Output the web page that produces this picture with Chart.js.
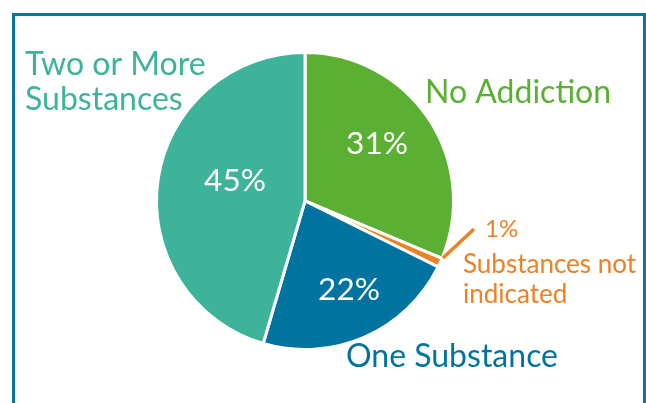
<!DOCTYPE html>
<html>
<head>
<meta charset="utf-8">
<script src="https://cdn.jsdelivr.net/npm/chart.js@4"></script>
<style>
  html, body { margin: 0; padding: 0; background: #fff; }
  #wrap { position: relative; width: 646px; height: 403px; }
</style>
</head>
<body>
<div id="wrap"><canvas id="c" width="646" height="403"></canvas></div>
<script>
const categories = ["No Addiction", "Substances not indicated", "One Substance", "Two or More Substances"];
const values = [31, 1, 22, 45];
const percentLabels = ["31%", "1%", "22%", "45%"];
const colors = ["#5BB034", "#EE8125", "#0073A0", "#3DB49A"];
const frameColor = "#0B74A0";

const annotate = {
  id: "annotate",
  beforeDraw(chart) {
    const ctx = chart.ctx;
    ctx.save();
    ctx.strokeStyle = frameColor;
    ctx.lineWidth = 3;
    ctx.beginPath();
    ctx.moveTo(13.5, 410);
    ctx.lineTo(13.5, 14.5);
    ctx.lineTo(644.5, 14.5);
    ctx.lineTo(644.5, 410);
    ctx.stroke();
    ctx.restore();
  },
  afterDraw(chart) {
    const ctx = chart.ctx;
    ctx.save();
    ctx.textBaseline = "alphabetic";
    // percent labels inside slices
    ctx.fillStyle = "#ffffff";
    ctx.font = "31.5px Lato";
    ctx.textAlign = "center";
    ctx.fillText(percentLabels[0], 377, 154);
    ctx.fillText(percentLabels[3], 235, 191);
    ctx.fillText(percentLabels[2], 349, 300);
    // category labels
    ctx.textAlign = "left";
    ctx.font = "32px Lato";
    ctx.fillStyle = colors[0];
    ctx.fillText("No Addiction", 425, 103);
    ctx.fillStyle = colors[3];
    ctx.fillText("Two or More", 25, 75);
    ctx.fillText("Substances", 25, 110);
    ctx.fillStyle = colors[2];
    ctx.fillText("One Substance", 346, 367);
    // small slice: leader + labels
    ctx.strokeStyle = colors[1];
    ctx.lineWidth = 3.5;
    ctx.beginPath();
    ctx.moveTo(443, 258);
    ctx.lineTo(474, 229);
    ctx.stroke();
    ctx.fillStyle = colors[1];
    ctx.font = "24px Lato";
    ctx.fillText(percentLabels[1], 485, 237);
    ctx.font = "26px Lato";
    ctx.fillText("Substances not", 463, 273);
    ctx.fillText("indicated", 463, 303);
    ctx.restore();
  }
};

new Chart(document.getElementById("c"), {
  type: "pie",
  data: {
    labels: categories,
    datasets: [{
      data: values,
      backgroundColor: colors,
      borderColor: "#ffffff",
      borderWidth: 3
    }]
  },
  options: {
    responsive: false,
    animation: false,
    layout: { padding: { top: 51, bottom: 52, left: 155, right: 191 } },
    plugins: { legend: { display: false }, tooltip: { enabled: false } }
  },
  plugins: [annotate]
});
</script>
</body>
</html>
